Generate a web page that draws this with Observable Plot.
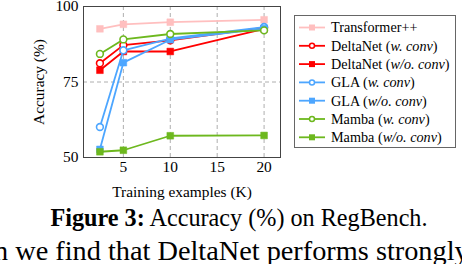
<!DOCTYPE html>
<html>
<head>
<meta charset="utf-8">
<script src="https://cdn.jsdelivr.net/npm/d3@7"></script>
<script src="https://cdn.jsdelivr.net/npm/@observablehq/plot@0.6"></script>
<style>
  html, body { margin: 0; padding: 0; background: #fff; overflow: hidden; }
  #wrap { position: relative; width: 462px; height: 264px; overflow: hidden; font-family: "Liberation Serif", "DejaVu Serif", serif; }
  #wrap svg, #wrap svg text, #wrap svg tspan { font-family: "Liberation Serif", "DejaVu Serif", serif !important; }
  #chart { position: absolute; left: 0; top: 0; }
  #legend { position: absolute; left: 294px; top: 15px; width: 162px; height: 133px; border: 1px solid #666; box-sizing: border-box; background: #fff; }
  #caption { position: absolute; left: 8px; width: 462px; top: 206px; line-height: 24px; text-align: center; font-size: 24.2px; color: #000; white-space: nowrap; }
  #body { position: absolute; left: -6px; top: 236.5px; line-height: 28px; font-size: 28.3px; white-space: nowrap; color: #000; }
</style>
</head>
<body>
<div id="wrap">
  <div id="chart"></div>
  <div id="legend"></div>
  <div id="caption"><b>Figure 3:</b> Accuracy (%) on RegBench.</div>
  <div id="body">n we find that DeltaNet performs strongly</div>
</div>
<script>
const trainingK = [2.5, 5, 10, 20];
const seriesNames = ["Transformer++", "DeltaNet (w. conv)", "DeltaNet (w/o. conv)", "GLA (w. conv)", "GLA (w/o. conv)", "Mamba (w. conv)", "Mamba (w/o. conv)"];
const transformerPP = [92.6, 94.1, 94.8, 95.6];
const deltaNetConv = [81.2, 87.2, 88.8, 93.0];
const deltaNetNoConv = [78.9, 85.1, 85.1, 92.6];
const glaConv = [60.1, 85.5, 89.4, 93.2];
const glaNoConv = [52.7, 81.4, 89.0, 92.7];
const mambaConv = [84.3, 89.1, 90.9, 92.1];
const mambaNoConv = [51.9, 52.4, 57.2, 57.3];
const xTicks = [5, 10, 15, 20];
const yTicks = [50, 75, 100];

const seriesValues = [transformerPP, deltaNetConv, deltaNetNoConv, glaConv, glaNoConv, mambaConv, mambaNoConv];
const colors = ["#ffbfbf", "#ff0000", "#ff0000", "#4da6ff", "#4da6ff", "#6db81e", "#6db81e"];
const markers = ["square", "circle", "square", "circle", "square", "circle", "square"];

const rows = [];
seriesNames.forEach((name, i) => {
  seriesValues[i].forEach((v, j) => rows.push({series: name, idx: i, x: trainingK[j], y: v}));
});

const marks = [
  Plot.gridX(xTicks, {stroke: "#999", strokeOpacity: 1, strokeDasharray: "4,3", strokeWidth: 0.8}),
  Plot.gridY([75], {stroke: "#999", strokeOpacity: 1, strokeDasharray: "4,3", strokeWidth: 0.8}),
  Plot.frame({stroke: "#444", strokeWidth: 1})
];
seriesNames.forEach((name, i) => {
  const d = rows.filter(r => r.idx === i);
  marks.push(Plot.line(d, {x: "x", y: "y", stroke: colors[i], strokeWidth: 1.8}));
  if (markers[i] === "circle") {
    marks.push(Plot.dot(d, {x: "x", y: "y", symbol: "circle", r: 3.4, fill: "white", stroke: colors[i], strokeWidth: 1.6}));
  } else {
    marks.push(Plot.dot(d, {x: "x", y: "y", symbol: "square", r: 3.8, fill: colors[i], stroke: colors[i], strokeWidth: 0.5}));
  }
});

const chart = Plot.plot({
  width: 462,
  height: 200,
  marginLeft: 83,
  marginRight: 182,
  marginTop: 6,
  marginBottom: 43,
  style: {fontFamily: "Liberation Serif, serif", fontSize: "15.4px", color: "#000", background: "transparent"},
  x: {domain: [0.75, 21.75], ticks: xTicks, tickSize: 0, tickPadding: 4, label: "Training examples (K)", labelAnchor: "center", labelOffset: 39, labelArrow: "none"},
  y: {domain: [50, 100], ticks: yTicks, tickSize: 0, tickPadding: 5, label: "Accuracy (%)", labelAnchor: "center", labelOffset: 50, labelArrow: "none"},
  marks
});
document.getElementById("chart").appendChild(chart);

// Legend
const legend = document.getElementById("legend");
const ns = "http://www.w3.org/2000/svg";
const lsvg = document.createElementNS(ns, "svg");
lsvg.setAttribute("width", 160);
lsvg.setAttribute("height", 131);
lsvg.style.position = "absolute";
lsvg.style.left = "0px";
lsvg.style.top = "0px";
seriesNames.forEach((name, i) => {
  const cy = 11.5 + i * 18.3;
  const line = document.createElementNS(ns, "line");
  line.setAttribute("x1", 4); line.setAttribute("x2", 30);
  line.setAttribute("y1", cy); line.setAttribute("y2", cy);
  line.setAttribute("stroke", colors[i]); line.setAttribute("stroke-width", 1.8);
  lsvg.appendChild(line);
  if (markers[i] === "circle") {
    const c = document.createElementNS(ns, "circle");
    c.setAttribute("cx", 17); c.setAttribute("cy", cy); c.setAttribute("r", 2.5);
    c.setAttribute("fill", "white"); c.setAttribute("stroke", colors[i]); c.setAttribute("stroke-width", 1.5);
    lsvg.appendChild(c);
  } else {
    const r = document.createElementNS(ns, "rect");
    r.setAttribute("x", 14); r.setAttribute("y", cy - 3); r.setAttribute("width", 6); r.setAttribute("height", 6);
    r.setAttribute("fill", colors[i]);
    lsvg.appendChild(r);
  }
  const t = document.createElementNS(ns, "text");
  t.setAttribute("x", 36); t.setAttribute("y", cy + 4.8);
  t.setAttribute("font-size", "14.2px");
  const m = name.match(/^(.*?)( \()(.*)(\))$/);
  if (m) {
    t.appendChild(document.createTextNode(m[1] + " ("));
    const it = document.createElementNS(ns, "tspan");
    it.setAttribute("font-style", "italic");
    it.textContent = m[3];
    t.appendChild(it);
    t.appendChild(document.createTextNode(")"));
  } else {
    t.textContent = name;
  }
  lsvg.appendChild(t);
});
legend.appendChild(lsvg);
</script>
</body>
</html>
